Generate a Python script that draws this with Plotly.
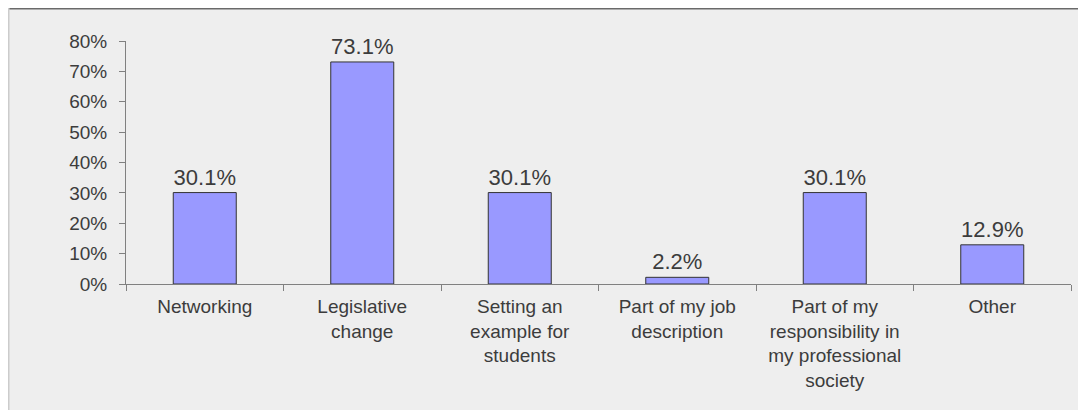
import plotly.graph_objects as go

categories = [
    "Networking",
    "Legislative<br>change",
    "Setting an<br>example for<br>students",
    "Part of my job<br>description",
    "Part of my<br>responsibility in<br>my professional<br>society",
    "Other",
]
values = [30.1, 73.1, 30.1, 2.2, 30.1, 12.9]
labels = ["30.1%", "73.1%", "30.1%", "2.2%", "30.1%", "12.9%"]
y_ticks = [0, 10, 20, 30, 40, 50, 60, 70, 80]
y_tick_text = [f"{v}%" for v in y_ticks]

# page body has an 8px margin, so figure is offset by 8px
OFF = 8
W, H = 1086 - OFF, 410 - OFF
L, R, T, B = 126 - OFF, 15, 41 - OFF, 410 - 284
pw, ph = W - L - R, H - T - B

def px(x):
    return (x - L) / pw

def py(y):
    return (H - B - y) / ph

FONT = "Liberation Sans, Arial, sans-serif"
TXT = "#3c3c3c"

fig = go.Figure(
    go.Bar(
        x=categories,
        y=values,
        text=labels,
        textposition="outside",
        textfont=dict(size=22, color=TXT, family=FONT),
        marker=dict(color="#9999FF", line=dict(color="#333333", width=1)),
        width=0.4,
        cliponaxis=False,
        hoverinfo="skip",
    )
)

fig.update_layout(
    width=W,
    height=H,
    margin=dict(l=L, r=R, t=T, b=B),
    paper_bgcolor="#EEEEEE",
    plot_bgcolor="rgba(0,0,0,0)",
    showlegend=False,
    font=dict(family=FONT, size=19, color=TXT),
    shapes=[
        dict(type="line", xref="paper", yref="paper",
             x0=px(0), x1=px(W + 5), y0=py(0.5), y1=py(0.5),
             line=dict(color="#6a6a6a", width=2)),
        dict(type="line", xref="paper", yref="paper",
             x0=px(0.5), x1=px(0.5), y0=py(0), y1=py(H + 5),
             line=dict(color="#cccccc", width=2)),
    ],
)

fig.update_xaxes(
    showline=True, linecolor="#808080", linewidth=1,
    ticks="outside", tickson="boundaries", ticklen=6, tickcolor="#808080",
    ticklabelstandoff=5,
    showgrid=False, tickfont=dict(size=19, color=TXT, family=FONT),
    fixedrange=True,
)
fig.update_yaxes(
    range=[0, 80], tickvals=y_ticks, ticktext=y_tick_text,
    showline=True, linecolor="#808080", linewidth=1,
    ticks="outside", ticklen=6, tickcolor="#808080",
    ticklabelstandoff=8,
    showgrid=False, zeroline=False,
    tickfont=dict(size=19, color=TXT, family=FONT),
    fixedrange=True,
)

fig.write_html("out.html")
